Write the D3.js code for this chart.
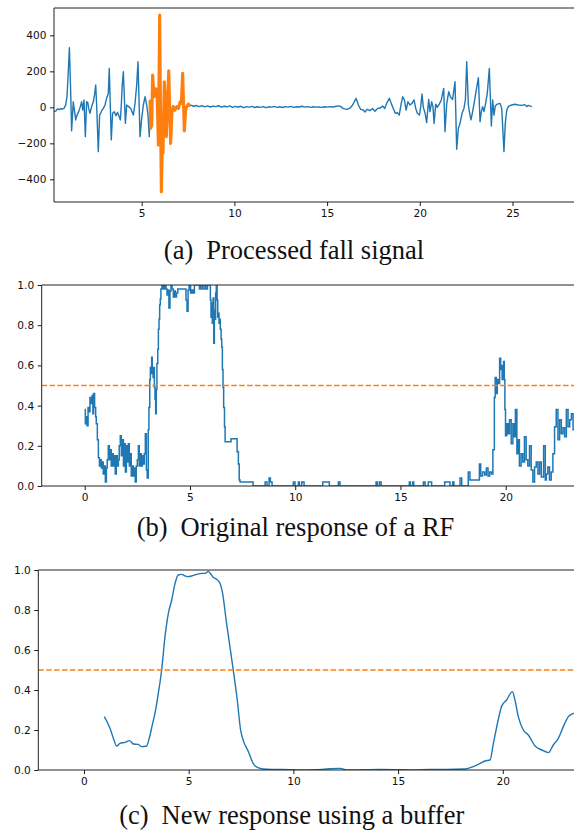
<!DOCTYPE html>
<html>
<head>
<meta charset="utf-8">
<script src="https://cdn.jsdelivr.net/npm/d3@7"></script>
<style>
  html, body { margin: 0; padding: 0; background: #fff; }
  svg { display: block; }
</style>
</head>
<body>
<svg id="fig" width="574" height="835"></svg>
<script>
// ---- data -------------------------------------------------------------
// (a) processed accelerometer signal: [time, value]
const fallSignal = [
  [0.27,-24],[0.38,-20],[0.45,-9],[0.54,-13],[0.63,-7],[0.72,-9],[0.81,-6],[0.90,13],[0.97,59],[1.04,198],
  [1.10,331],[1.17,87],[1.22,-131],[1.31,31],[1.38,-24],[1.44,-70],[1.51,-43],[1.60,-24],[1.69,4],[1.76,31],
  [1.82,-15],[1.89,41],[1.96,-163],[2.03,31],[2.09,28],[2.14,-6],[2.21,-33],[2.30,4],[2.39,31],[2.46,72],
  [2.52,124],[2.57,13],[2.66,-246],[2.73,-43],[2.84,-20],[2.93,-6],[3.02,13],[3.11,50],[3.20,78],[3.25,216],
  [3.36,-181],[3.43,-33],[3.52,-24],[3.61,-46],[3.70,-28],[3.79,-52],[3.85,-70],[3.90,13],[3.95,124],[4.01,198],
  [4.12,-89],[4.19,13],[4.30,4],[4.41,-6],[4.48,-24],[4.55,-43],[4.64,22],[4.73,124],[4.80,253],[4.91,-163],
  [5.00,-61],[5.09,13],[5.18,59],[5.27,13],[5.34,-43],[5.41,-163],
  [5.45,40],[5.48,-117],[5.54,-98],[5.59,180],[5.66,59],[5.72,105],[5.79,100],[5.84,40],[5.90,-209],[5.97,513],
  [6.01,40],[6.06,-469],[6.11,-218],[6.15,-255],[6.22,142],[6.28,-15],[6.33,-163],[6.40,59],[6.46,203],[6.51,-15],
  [6.56,-200],[6.63,-33],[6.70,4],[6.79,-15],[6.89,4],[6.98,-6],[7.07,31],[7.14,22],[7.21,189],[7.30,-131],
  [7.37,-15],[7.44,7],[7.52,18],[7.59,7],
  [7.65,12],[7.80,6],[7.95,10],[8.10,4],[8.25,9],[8.40,3],[8.55,8],[8.70,2],[8.85,7],[9.00,4],
  [9.15,9],[9.30,1],[9.45,6],[9.60,3],[9.75,8],[9.90,0],[10.05,5],[10.20,2],[10.35,6],[10.50,-2],
  [10.65,4],[10.80,1],[10.95,5],[11.10,-1],[11.25,3],[11.40,0],[11.55,4],[11.70,-2],[11.85,3],[12.00,1],
  [12.15,5],[12.30,0],[12.45,3],[12.60,-1],[12.75,4],[12.90,1],[13.05,5],[13.20,0],[13.35,3],[13.50,2],
  [13.65,6],[13.80,1],[13.95,4],[14.10,0],[14.25,3],[14.40,1],[14.55,2],[14.70,0],[14.85,3],[15.00,1],
  [15.15,4],[15.30,2],[15.45,5],[15.60,8],[15.70,7],[15.88,-7],[16.06,-11],[16.24,-4],[16.38,13],[16.56,50],
  [16.69,13],[16.81,-11],[16.95,-15],[17.04,-26],[17.17,-11],[17.31,-18],[17.46,-7],[17.58,-22],[17.71,-7],[17.85,-4],
  [18.00,7],[18.11,-6],[18.21,22],[18.36,50],[18.46,22],[18.57,-6],[18.68,-33],[18.79,-30],[18.89,-43],[19.00,22],
  [19.08,59],[19.17,41],[19.26,-15],[19.36,31],[19.47,13],[19.58,22],[19.69,41],[19.78,-6],[19.87,-33],[19.98,-43],
  [20.05,4],[20.12,74],[20.19,0],[20.28,-30],[20.37,-85],[20.48,44],[20.55,-24],[20.64,31],[20.71,4],[20.77,-89],
  [20.86,18],[20.94,0],[21.05,18],[21.16,41],[21.29,105],[21.36,-135],[21.45,18],[21.56,87],[21.67,55],[21.77,44],
  [21.90,142],[21.99,-233],[22.08,-117],[22.17,-89],[22.28,-33],[22.38,-6],[22.46,41],[22.53,253],[22.62,13],[22.69,-33],
  [22.76,-70],[22.85,-24],[22.96,41],[23.07,111],[23.16,165],[23.25,-80],[23.32,-24],[23.39,4],[23.46,-24],[23.55,22],
  [23.64,78],[23.75,216],[23.86,-104],[23.93,41],[24.00,-43],[24.07,7],[24.18,18],[24.33,22],[24.42,-6],[24.47,-107],
  [24.54,-246],[24.61,-89],[24.69,-15],[24.79,7],[24.96,13],[25.13,17],[25.31,13],[25.50,11],[25.67,15],[25.77,4],
  [25.85,11],[26.04,4]
];
// window flagged as the fall
const fallWindow = [5.45, 7.59];

// (b) raw random-forest fall probability: [time, value]
const rfResponse = [
  [0.00,0.38],[0.03,0.31],[0.08,0.345],[0.11,0.30],[0.16,0.39],[0.20,0.37],[0.25,0.44],[0.30,0.41],[0.35,0.45],[0.39,0.36],
  [0.42,0.46],[0.47,0.39],[0.52,0.345],[0.55,0.31],[0.60,0.23],[0.65,0.14],[0.70,0.10],[0.74,0.13],[0.79,0.09],[0.84,0.12],
  [0.88,0.06],[0.93,0.10],[0.98,0.02],[1.03,0.09],[1.07,0.13],[1.12,0.20],[1.17,0.13],[1.22,0.18],[1.26,0.10],[1.31,0.16],
  [1.36,0.10],[1.41,0.15],[1.45,0.06],[1.50,0.15],[1.55,0.10],[1.60,0.13],[1.64,0.20],[1.69,0.25],[1.74,0.15],[1.79,0.23],
  [1.84,0.10],[1.88,0.21],[1.93,0.07],[1.98,0.20],[2.02,0.12],[2.07,0.21],[2.12,0.10],[2.17,0.16],[2.21,0.05],[2.26,0.10],
  [2.31,0.05],[2.36,0.09],[2.40,0.02],[2.45,0.10],[2.50,0.13],[2.55,0.20],[2.59,0.10],[2.64,0.16],[2.69,0.10],[2.74,0.15],
  [2.78,0.11],[2.83,0.16],[2.88,0.26],[2.93,0.08],[2.97,0.04],[3.02,0.28],[3.05,0.39],[3.09,0.53],[3.12,0.59],[3.15,0.56],
  [3.18,0.64],[3.21,0.585],[3.25,0.54],[3.28,0.59],[3.31,0.49],[3.34,0.43],[3.37,0.36],[3.40,0.48],[3.43,0.61],[3.47,0.68],
  [3.50,0.78],[3.53,0.83],[3.56,0.90],[3.59,0.93],[3.62,0.98],[3.67,1.0],[3.74,0.98],[3.80,1.0],[3.86,0.98],[3.91,0.95],
  [3.96,0.975],[4.00,0.885],[4.05,0.97],[4.10,1.0],[4.15,0.98],[4.21,0.94],[4.26,0.97],[4.31,0.94],[4.36,0.96],[4.42,0.98],
  [4.53,0.98],[4.66,0.98],[4.77,0.98],[4.81,0.925],[4.86,0.87],[4.91,0.975],[4.96,1.0],[5.03,0.96],[5.10,0.975],[5.16,0.96],
  [5.21,1.0],[5.32,1.0],[5.40,1.0],[5.45,0.98],[5.51,1.0],[5.59,0.98],[5.67,1.0],[5.75,0.98],[5.83,1.0],[5.92,1.0],
  [5.97,0.925],[6.00,0.84],[6.03,0.91],[6.06,0.81],[6.10,0.935],[6.13,0.71],[6.16,0.875],[6.19,0.83],[6.22,0.96],[6.25,1.0],
  [6.29,0.925],[6.32,0.84],[6.35,0.86],[6.38,0.81],[6.41,0.83],[6.44,0.78],[6.48,0.73],[6.51,0.69],[6.54,0.58],[6.57,0.49],
  [6.60,0.39],[6.64,0.295],[6.67,0.22],[6.95,0.235],[7.24,0.17],[7.30,0.11],[7.34,0.03],[7.38,0.02],[8.00,0],[8.57,0.02],
  [8.66,0],[8.76,0.04],[8.82,0.02],[8.90,0],[9.91,0.02],[9.99,0],[10.15,0.02],[10.20,0],[10.31,0.02],[10.42,0],
  [11.31,0.02],[11.62,0],[12.05,0.02],[12.13,0],[13.84,0.02],[13.90,0],[14.00,0.02],[14.08,0],[15.42,0.02],[15.47,0],
  [15.58,0.02],[15.63,0],[16.09,0.02],[16.17,0],[16.32,0.02],[16.48,0],[17.10,0.02],[17.35,0],[17.48,0.02],[17.54,0],
  [17.83,0.04],[17.91,0],[18.22,0.07],[18.30,0.03],[18.75,0.11],[18.81,0.05],[18.90,0.07],[19.00,0.055],[19.08,0.09],[19.16,0.05],
  [19.24,0.07],[19.33,0.06],[19.39,0.18],[19.46,0.44],[19.50,0.54],[19.55,0.46],[19.60,0.53],[19.66,0.51],[19.71,0.635],[19.76,0.58],
  [19.80,0.60],[19.83,0.53],[19.90,0.62],[19.93,0.53],[19.96,0.38],[19.99,0.25],[20.05,0.31],[20.12,0.26],[20.18,0.33],[20.26,0.21],
  [20.34,0.31],[20.40,0.245],[20.46,0.38],[20.53,0.16],[20.59,0.23],[20.65,0.10],[20.73,0.16],[20.81,0.12],[20.89,0.245],[20.97,0.13],
  [21.05,0.10],[21.13,0.20],[21.21,0.08],[21.29,0.02],[21.37,0.095],[21.45,0.12],[21.53,0.06],[21.61,0.12],[21.69,0.045],[21.80,0.20],
  [21.88,0.03],[21.93,0.06],[22.00,0.095],[22.08,0.03],[22.16,0.07],[22.24,0.16],[22.32,0.295],[22.40,0.38],[22.48,0.23],[22.56,0.33],
  [22.64,0.26],[22.72,0.29],[22.80,0.245],[22.88,0.38],[22.96,0.295],[23.04,0.33],[23.12,0.36],[23.20,0.28],[23.30,0.34],[23.40,0.30],
  [23.50,0.33]
];

// (c) buffered (smoothed) response: [time, value]
const bufferedResponse = [
  [0.97,0.267],[1.24,0.21],[1.40,0.16],[1.56,0.12],[1.72,0.133],[1.96,0.138],[2.17,0.147],[2.36,0.13],[2.59,0.128],[2.75,0.117],
  [2.99,0.12],[3.12,0.16],[3.28,0.233],[3.39,0.283],[3.55,0.383],[3.71,0.50],[3.87,0.667],[4.03,0.783],[4.19,0.85],[4.35,0.933],
  [4.50,0.975],[4.67,0.978],[4.78,0.973],[4.93,0.967],[5.14,0.97],[5.38,0.978],[5.62,0.983],[5.78,0.983],[5.94,0.993],[6.05,0.98],
  [6.18,0.963],[6.34,0.953],[6.50,0.933],[6.62,0.883],[6.81,0.733],[6.97,0.617],[7.13,0.50],[7.32,0.35],[7.48,0.20],[7.61,0.147],
  [7.85,0.092],[8.08,0.033],[8.28,0.013],[8.56,0.005],[9.04,0.003],[9.84,0.002],[10.32,0],[11.00,0.001],[11.59,0.005],[12.23,0.008],
  [12.55,0],[14.15,0.003],[14.93,0.002],[15.73,0],[16.52,0.003],[17.32,0.003],[18.20,0.005],[18.59,0.017],[18.91,0.033],[19.15,0.045],
  [19.39,0.05],[19.55,0.133],[19.78,0.25],[19.94,0.317],[20.18,0.35],[20.46,0.392],[20.58,0.35],[20.74,0.267],[20.98,0.20],[21.22,0.175],
  [21.54,0.12],[21.86,0.10],[22.18,0.087],[22.41,0.125],[22.65,0.158],[22.89,0.217],[23.13,0.267],[23.37,0.283],[23.60,0.29]
];

const threshold = 0.5;

const signalTicksY = [-400, -200, 0, 200, 400];
const signalTicksX = [5, 10, 15, 20, 25];
const responseTicksY = [0, 0.2, 0.4, 0.6, 0.8, 1.0];
const responseTicksX = [0, 5, 10, 15, 20];

const captions = [
  ["(a)", "Processed fall signal"],
  ["(b)", "Original response of a RF"],
  ["(c)", "New response using a buffer"]
];

// ---- drawing ----------------------------------------------------------
const BLUE = "#1f77b4", ORANGE = "#ff7f0e";
const svg = d3.select("#fig");

function panel(cfg) {
  const { id, left, right, top, bottom, xDomain, yDomain, xTicks, yTicks, yFmt } = cfg;
  const x = d3.scaleLinear().domain(xDomain).range([left, right]);
  const y = d3.scaleLinear().domain(yDomain).range([bottom, top]);
  const g = svg.append("g");

  g.append("clipPath").attr("id", "clip-" + id)
    .append("rect").attr("x", left).attr("y", top)
    .attr("width", right - left).attr("height", bottom - top);

  const plot = g.append("g").attr("clip-path", `url(#clip-${id})`);

  // x axis
  const xa = g.append("g").attr("transform", `translate(0,${bottom})`)
    .call(d3.axisBottom(x).tickValues(xTicks).tickSize(4).tickSizeOuter(0).tickPadding(3.5)
      .tickFormat(d3.format("d")));
  // y axis
  const ya = g.append("g").attr("transform", `translate(${left},0)`)
    .call(d3.axisLeft(y).tickValues(yTicks).tickSize(4).tickSizeOuter(0).tickPadding(3.5)
      .tickFormat(yFmt));
  [xa, ya].forEach(a => {
    a.select(".domain").remove();
    a.selectAll(".tick line").attr("stroke", "#000").attr("stroke-width", 0.9);
    a.selectAll(".tick text").attr("fill", "#111")
      .style("font-family", "'DejaVu Sans', sans-serif").style("font-size", "10.6px");
  });

  // spines: left, bottom, top (right one falls outside the frame)
  const sp = g.append("g").attr("stroke", "#222").attr("stroke-width", 1).attr("fill", "none");
  sp.append("line").attr("x1", left).attr("x2", left).attr("y1", top).attr("y2", bottom);
  sp.append("line").attr("x1", left).attr("x2", right).attr("y1", bottom).attr("y2", bottom);
  sp.append("line").attr("x1", left).attr("x2", right).attr("y1", top).attr("y2", top);
  sp.append("line").attr("x1", right).attr("x2", right).attr("y1", top).attr("y2", bottom);

  return { x, y, plot, g };
}

function caption(i, cx, baseline) {
  const t = svg.append("text")
    .attr("x", cx).attr("y", baseline)
    .attr("text-anchor", "middle")
    .style("font-family", "'Liberation Serif', 'Times New Roman', serif")
    .style("font-size", "26.5px")
    .attr("fill", "#111");
  t.append("tspan").text(captions[i][0]);
  t.append("tspan").attr("dx", 13).text(captions[i][1]);
}

const minusFmt = d => d3.format("d")(d).replace("-", "\u2212");

// (a)
{
  const p = panel({ id: "a", left: 54, right: 579, top: 8, bottom: 202,
    xDomain: [0.27, 28.587], yDomain: [-526, 552],
    xTicks: signalTicksX, yTicks: signalTicksY, yFmt: minusFmt });
  const line = d3.line().x(d => p.x(d[0])).y(d => p.y(d[1]));
  p.plot.append("path").datum(fallSignal)
    .attr("d", line).attr("fill", "none").attr("stroke", BLUE)
    .attr("stroke-width", 1.4).attr("stroke-linejoin", "round");
  p.plot.append("path")
    .datum(fallSignal.filter(d => d[0] >= fallWindow[0] && d[0] <= fallWindow[1]))
    .attr("d", line).attr("fill", "none").attr("stroke", ORANGE)
    .attr("stroke-width", 3.1).attr("stroke-linejoin", "round");
  caption(0, 294, 259);
}

// (b)
{
  const p = panel({ id: "b", left: 41.7, right: 579.4, top: 285, bottom: 486,
    xDomain: [-2.043, 23.5], yDomain: [0, 1],
    xTicks: responseTicksX, yTicks: responseTicksY, yFmt: d3.format(".1f") });
  p.plot.append("path").datum(rfResponse)
    .attr("d", d3.line().curve(d3.curveStepAfter).x(d => p.x(d[0])).y(d => p.y(d[1])))
    .attr("fill", "none").attr("stroke", BLUE).attr("stroke-width", 1.5);
  p.plot.append("line")
    .attr("x1", p.x.range()[0]).attr("x2", p.x.range()[1])
    .attr("y1", p.y(threshold)).attr("y2", p.y(threshold))
    .attr("stroke", ORANGE).attr("stroke-width", 1.5).attr("stroke-dasharray", "5.5,2.4");
  caption(1, 295.5, 536);
}

// (c)
{
  const p = panel({ id: "c", left: 38.3, right: 578.2, top: 570, bottom: 770,
    xDomain: [-2.18, 23.6], yDomain: [0, 1],
    xTicks: responseTicksX, yTicks: responseTicksY, yFmt: d3.format(".1f") });
  p.plot.append("path").datum(bufferedResponse)
    .attr("d", d3.line().curve(d3.curveMonotoneX).x(d => p.x(d[0])).y(d => p.y(d[1])))
    .attr("fill", "none").attr("stroke", BLUE).attr("stroke-width", 1.4);
  p.plot.append("line")
    .attr("x1", p.x.range()[0]).attr("x2", p.x.range()[1])
    .attr("y1", p.y(threshold)).attr("y2", p.y(threshold))
    .attr("stroke", ORANGE).attr("stroke-width", 1.5).attr("stroke-dasharray", "5.5,2.4");
  caption(2, 291.7, 824);
}
</script>
</body>
</html>
